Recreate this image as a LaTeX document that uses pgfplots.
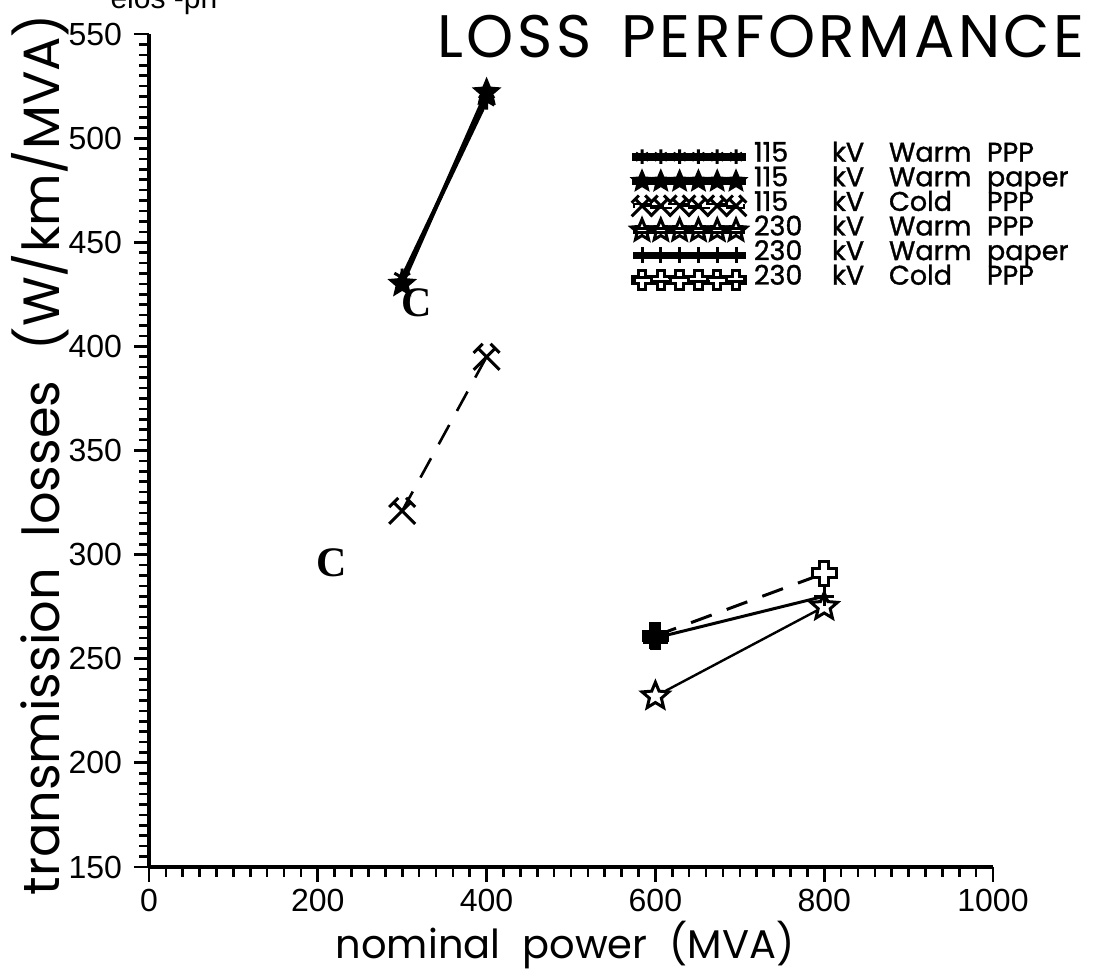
\documentclass[border=0pt]{standalone}
\usepackage{fontspec}
\usepackage{graphicx}
\usepackage{pgfplots}
\pgfplotsset{compat=1.18}
\usetikzlibrary{plotmarks}
\setmainfont{Poppins}
\newfontfamily\tickfont{Liberation Sans}
\newfontfamily\cfont{Liberation Serif}
\newfontfamily\titlefont[LetterSpace=6]{Poppins}
\newfontfamily\legfont[FakeBold=1.2]{Poppins}

\pgfdeclareplotmark{mystar}{%
  \pgfpathmoveto{\pgfpointpolar{90}{\pgfplotmarksize}}%
  \pgfpathlineto{\pgfpointpolar{126}{0.45\pgfplotmarksize}}%
  \pgfpathlineto{\pgfpointpolar{162}{\pgfplotmarksize}}%
  \pgfpathlineto{\pgfpointpolar{198}{0.45\pgfplotmarksize}}%
  \pgfpathlineto{\pgfpointpolar{234}{\pgfplotmarksize}}%
  \pgfpathlineto{\pgfpointpolar{270}{0.45\pgfplotmarksize}}%
  \pgfpathlineto{\pgfpointpolar{306}{\pgfplotmarksize}}%
  \pgfpathlineto{\pgfpointpolar{342}{0.45\pgfplotmarksize}}%
  \pgfpathlineto{\pgfpointpolar{18}{\pgfplotmarksize}}%
  \pgfpathlineto{\pgfpointpolar{54}{0.45\pgfplotmarksize}}%
  \pgfpathclose
  \pgfusepathqfillstroke}
\pgfdeclareplotmark{hammer}{%
  \pgfpathmoveto{\pgfpoint{-\pgfplotmarksize}{-\pgfplotmarksize}}%
  \pgfpathlineto{\pgfpoint{0.65\pgfplotmarksize}{0.65\pgfplotmarksize}}%
  \pgfpathmoveto{\pgfpoint{\pgfplotmarksize}{-\pgfplotmarksize}}%
  \pgfpathlineto{\pgfpoint{-0.65\pgfplotmarksize}{0.65\pgfplotmarksize}}%
  \pgfpathmoveto{\pgfpoint{0.3\pgfplotmarksize}{\pgfplotmarksize}}%
  \pgfpathlineto{\pgfpoint{\pgfplotmarksize}{0.3\pgfplotmarksize}}%
  \pgfpathmoveto{\pgfpoint{-0.3\pgfplotmarksize}{\pgfplotmarksize}}%
  \pgfpathlineto{\pgfpoint{-\pgfplotmarksize}{0.3\pgfplotmarksize}}%
  \pgfusepathqstroke}
\pgfdeclareplotmark{gcross}{%
  \pgfpathmoveto{\pgfpoint{0.38\pgfplotmarksize}{\pgfplotmarksize}}%
  \pgfpathlineto{\pgfpoint{-0.38\pgfplotmarksize}{\pgfplotmarksize}}%
  \pgfpathlineto{\pgfpoint{-0.38\pgfplotmarksize}{0.38\pgfplotmarksize}}%
  \pgfpathlineto{\pgfpoint{-\pgfplotmarksize}{0.38\pgfplotmarksize}}%
  \pgfpathlineto{\pgfpoint{-\pgfplotmarksize}{-0.38\pgfplotmarksize}}%
  \pgfpathlineto{\pgfpoint{-0.38\pgfplotmarksize}{-0.38\pgfplotmarksize}}%
  \pgfpathlineto{\pgfpoint{-0.38\pgfplotmarksize}{-\pgfplotmarksize}}%
  \pgfpathlineto{\pgfpoint{0.38\pgfplotmarksize}{-\pgfplotmarksize}}%
  \pgfpathlineto{\pgfpoint{0.38\pgfplotmarksize}{-0.38\pgfplotmarksize}}%
  \pgfpathlineto{\pgfpoint{\pgfplotmarksize}{-0.38\pgfplotmarksize}}%
  \pgfpathlineto{\pgfpoint{\pgfplotmarksize}{0.38\pgfplotmarksize}}%
  \pgfpathlineto{\pgfpoint{0.38\pgfplotmarksize}{0.38\pgfplotmarksize}}%
  \pgfpathclose
  \pgfusepathqfillstroke}

\pgfplotsset{
  mylegend/.style={legend image code/.code={%
    \draw[##1,mark repeat=1,mark phase=1,overlay,line width=1.3pt,every mark/.append style={scale=0.8}] plot coordinates {(0pt,0pt)(9.4pt,0pt)(18.8pt,0pt)(28.2pt,0pt)(37.6pt,0pt)(47pt,0pt)};
    \path (-4pt,-1pt) rectangle (51pt,1pt);}},
}
\newcommand\legtxt[4]{\hspace{4pt}\makebox[39pt][l]{#1}\makebox[28.5pt][l]{#2}\makebox[49pt][l]{#3}#4}

\begin{document}
\begin{tikzpicture}
\begin{axis}[
  at={(0,0)}, anchor=south west,
  scale only axis, width=422pt, height=416.5pt,
  xmin=0, xmax=1000, ymin=150, ymax=550,
  axis x line=bottom, axis y line=left,
  axis line style={-, line width=1.6pt},
  xtick={0,200,...,1000}, ytick={150,200,...,550},
  minor x tick num=9, minor y tick num=9,
  tick align=outside,
  major tick length=7.5pt, minor tick length=4.8pt,
  every major tick/.style={black, line width=1.4pt},
  every minor tick/.style={black, line width=1.3pt},
  tick label style={font=\tickfont\fontsize{16}{16}\selectfont},
  yticklabel style={xshift=-2.5pt},
  /pgf/number format/assume math mode=true,
  /pgf/number format/1000 sep={},
  xlabel={nominal\hspace{0.55em}power\hspace{0.55em}(MVA)},
  ylabel={transmission\hspace{0.6em}losses\hspace{0.6em}(W/km/MVA)},
  xlabel style={at={(axis description cs:0.493,-0.094)}, anchor=center, font=\fontsize{20}{20}\selectfont},
  ylabel style={at={(axis description cs:-0.129,0.495)}, anchor=center, font=\fontsize{25.5}{25.5}\selectfont},
  clip=false,
  legend style={at={(rel axis cs:0.5723,0.8675)}, anchor=north west, draw=none, fill=none,
    inner sep=0pt, outer sep=0pt,
    font=\legfont\fontsize{13.5}{13.5}\selectfont, row sep=0pt, column sep=0pt,
    nodes={inner sep=0pt, outer sep=0pt, text height=8.65pt, text depth=3.65pt}},
  legend cell align=left,
]
\addplot[mylegend, black, line width=2pt, mark=asterisk, mark size=4.5pt, mark options={solid, line width=1.5pt}]
  coordinates {(300,433) (400,518)};
\addlegendentry{\legtxt{115}{kV}{Warm}{PPP}}
\addplot[mylegend, black, line width=2pt, mark=mystar, mark size=6.5pt, mark options={solid, fill=black, line width=1pt}]
  coordinates {(300,430) (400,522)};
\addlegendentry{\legtxt{115}{kV}{Warm}{paper}}
\addplot[mylegend, black, line width=1.3pt, dash pattern=on 11pt off 8pt, mark=hammer, mark size=6.5pt, mark options={solid, line width=1.5pt}]
  coordinates {(300,321) (400,395)};
\addlegendentry{\legtxt{115}{kV}{Cold}{PPP}}
\addplot[mylegend, black, line width=1.2pt, mark=mystar, mark size=7pt, mark options={solid, fill=white, line width=1.5pt}]
  coordinates {(600,232) (800,275)};
\addlegendentry{\legtxt{230}{kV}{Warm}{PPP}}
\addplot[mylegend, black, line width=1.5pt, mark=+, mark size=5pt, mark options={solid, line width=1.5pt}]
  coordinates {(600,260) (800,280)};
\addlegendentry{\legtxt{230}{kV}{Warm}{paper}}
\addplot[mylegend, black, line width=1.5pt, dash pattern=on 11pt off 8pt, mark=gcross, mark size=6pt, mark options={solid, fill=white, line width=1.5pt}]
  coordinates {(600,261) (800,291)};
\addlegendentry{\legtxt{230}{kV}{Cold}{PPP}}
\addplot[forget plot, only marks, black, mark=gcross, mark size=5.5pt, mark options={fill=black, line width=1.5pt}]
  coordinates {(600,260)};
\node[font=\cfont\bfseries\fontsize{21}{21}\selectfont] at (axis cs:317,421) {C};
\node[font=\cfont\bfseries\fontsize{21}{21}\selectfont] at (axis cs:217,296) {C};
\node[font=\titlefont\fontsize{30}{30}\selectfont] at (rel axis cs:0.725,0.997) {LOSS\hspace{0.5em}PERFORMANCE};
\node[font=\tickfont\fontsize{15}{15}\selectfont, anchor=base west, inner sep=0pt] at (axis description cs:-0.046,1.031) {elos -pn};
\end{axis}
\pgfresetboundingbox
\useasboundingbox (-74.5pt,-54pt) rectangle (474.5pt,433.5pt);
\end{tikzpicture}
\end{document}
